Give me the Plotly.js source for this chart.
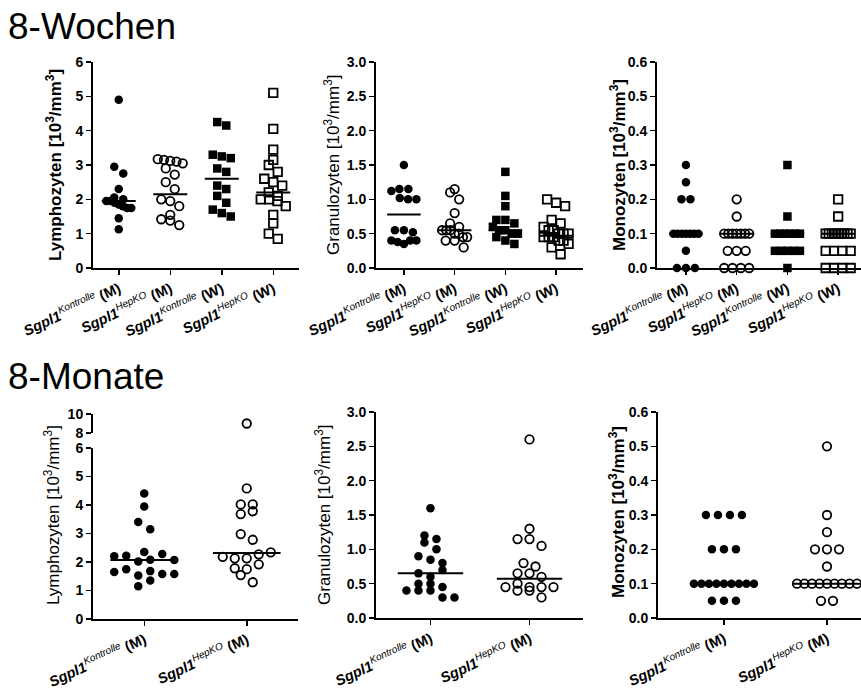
<!DOCTYPE html>
<html>
<head>
<meta charset="utf-8">
<script src="https://cdn.plot.ly/plotly-3.0.1.min.js"></script>
<style>html,body{margin:0;padding:0;background:#fff;}#chart{width:861px;height:691px;}</style>
</head>
<body>
<div id="chart"></div>
<script>
// ---------------- DATA ----------------
const catW8 = [['Kontrolle','M'],['HepKO','M'],['Kontrolle','W'],['HepKO','W']];
const catM8 = [['Kontrolle','M'],['HepKO','M']];

// 8-Wochen: Lymphozyten
const lymW8_KM = [4.9, 2.95, 2.75, 2.3, 2.05, 2.0, 1.95, 1.95, 1.9, 1.85, 1.8, 1.75, 1.75, 1.45, 1.13];
const lymW8_HM = [3.17, 3.15, 3.12, 3.1, 3.05, 2.9, 2.72, 2.5, 2.3, 2.0, 1.95, 1.8, 1.55, 1.42, 1.38, 1.25];
const lymW8_KW = [4.25, 4.15, 3.3, 3.25, 3.2, 2.9, 2.8, 2.4, 2.3, 2.1, 1.9, 1.7, 1.6, 1.5];
const lymW8_HW = [5.1, 4.05, 3.45, 3.15, 3.0, 2.8, 2.6, 2.5, 2.4, 2.2, 2.1, 2.0, 2.0, 1.95, 1.8, 1.55, 1.3, 1.0, 0.85];
const lymW8_med = [1.95, 2.15, 2.6, 2.2];

// 8-Wochen: Granulozyten
const granW8_KM = [1.5, 1.15, 1.15, 1.12, 1.02, 1.0, 1.0, 0.55, 0.55, 0.52, 0.4, 0.38, 0.35, 0.4, 0.4];
const granW8_HM = [1.15, 1.1, 1.0, 0.8, 0.65, 0.6, 0.55, 0.55, 0.55, 0.5, 0.5, 0.45, 0.45, 0.4, 0.4, 0.3];
const granW8_KW = [1.4, 1.05, 0.9, 0.7, 0.7, 0.65, 0.6, 0.55, 0.55, 0.5, 0.5, 0.45, 0.4, 0.35];
const granW8_HW = [1.0, 0.95, 0.9, 0.7, 0.65, 0.6, 0.55, 0.55, 0.5, 0.5, 0.5, 0.45, 0.45, 0.45, 0.4, 0.4, 0.35, 0.3, 0.2];
const granW8_med = [0.78, 0.55, 0.55, 0.47];

// 8-Wochen: Monozyten
const monoW8_KM = [0.3, 0.25, 0.2, 0.2, 0.1, 0.1, 0.1, 0.1, 0.1, 0.1, 0.1, 0.05, 0.0, 0.0, 0.0];
const monoW8_HM = [0.2, 0.15, 0.1, 0.1, 0.1, 0.1, 0.1, 0.1, 0.1, 0.05, 0.05, 0.05, 0.0, 0.0, 0.0, 0.0];
const monoW8_KW = [0.3, 0.15, 0.1, 0.1, 0.1, 0.1, 0.1, 0.1, 0.05, 0.05, 0.05, 0.05, 0.05, 0.0];
const monoW8_HW = [0.2, 0.15, 0.1, 0.1, 0.1, 0.1, 0.1, 0.1, 0.1, 0.1, 0.1, 0.05, 0.05, 0.05, 0.05, 0.0, 0.0, 0.0, 0.0];
const monoW8_med = [0.1, 0.1, 0.1, 0.1];

// 8-Monate: Lymphozyten
const lymM8_K = [4.4, 3.95, 3.4, 3.15, 2.2, 2.22, 2.02, 2.08, 2.28, 2.07, 2.35, 1.65, 1.75, 1.53, 1.68, 1.58, 1.58, 1.15, 1.35];
const lymM8_H = [9.0, 4.58, 4.02, 4.02, 3.68, 3.78, 2.98, 2.78, 2.18, 2.13, 2.13, 2.27, 2.34, 1.78, 1.75, 1.92, 1.54, 1.29];
const lymM8_med = [2.07, 2.32];

// 8-Monate: Granulozyten
const granM8_K = [1.6, 1.2, 1.1, 1.15, 1.0, 0.9, 0.85, 0.8, 0.65, 0.6, 0.7, 0.5, 0.5, 0.45, 0.4, 0.4, 0.4, 0.3, 0.3];
const granM8_H = [2.6, 1.3, 1.15, 1.15, 1.05, 0.8, 0.75, 0.65, 0.65, 0.6, 0.45, 0.5, 0.45, 0.45, 0.4, 0.4, 0.45, 0.3];
const granM8_med = [0.65, 0.57];

// 8-Monate: Monozyten
const monoM8_K = [0.3, 0.3, 0.3, 0.3, 0.2, 0.2, 0.2, 0.1, 0.1, 0.1, 0.1, 0.1, 0.1, 0.1, 0.1, 0.1, 0.05, 0.05, 0.05];
const monoM8_H = [0.5, 0.3, 0.25, 0.2, 0.2, 0.2, 0.15, 0.1, 0.1, 0.1, 0.1, 0.1, 0.1, 0.1, 0.1, 0.1, 0.05, 0.05];
const monoM8_med = [0.1, 0.1];

// ---------------- LAYOUT HELPERS ----------------
const W = 861, H = 691;
const FONT = 'Liberation Sans, Arial, sans-serif';
const dx = px => px / W;
const dy = px => 1 - px / H;

function tickLabel(c) {
  return '<b><i>Sgpl1</i></b><sup><i>' + c[0] + '</i></sup><b> (' + c[1] + ')</b>';
}

// panel geometry (pixels)
const G = {
  lymW8:  {x0: 93,  x1: 299, xr: [-0.5, 3.5],   yT: 62,  yB: 268, yr: [0, 6],   dt: 1,   fmt: 'd'},
  granW8: {x0: 376, x1: 583, xr: [-0.55, 3.53], yT: 62,  yB: 268, yr: [0, 3],   dt: 0.5, fmt: '.1f'},
  monoW8: {x0: 657, x1: 861, xr: [-0.57, 3.45], yT: 62,  yB: 268, yr: [0, 0.6], dt: 0.1, fmt: '.1f'},
  lymM8:  {x0: 93,  x1: 298, xr: [-0.5, 1.5],   yT: 448, yB: 619, yr: [0, 6],   dt: 1,   fmt: 'd'},
  granM8: {x0: 376, x1: 583, xr: [-0.55, 1.54], yT: 412, yB: 618, yr: [0, 3],   dt: 0.5, fmt: '.1f'},
  monoM8: {x0: 658, x1: 861, xr: [-0.64, 1.33], yT: 412, yB: 618, yr: [0, 0.6], dt: 0.1, fmt: '.1f'}
};
const lymUpper = {yT: 414, yB: 433, yr: [8, 10]};

function pxX(g) { return (g.x1 - g.x0) / (g.xr[1] - g.xr[0]); }
function pxY(g) { return (g.yB - g.yT) / (g.yr[1] - g.yr[0]); }

// row-based scatter layout (GraphPad-like)
function swarm(vals, cat, g, spacing, halfW) {
  const ppy = pxY(g), ppx = pxX(g), dBin = 8.5;
  const idx = vals.map((v, i) => i).sort((a, b) => vals[a] - vals[b] || a - b);
  const rows = []; let cur = [];
  idx.forEach(i => {
    if (cur.length && (vals[i] - vals[cur[0]]) * ppy >= dBin) { rows.push(cur); cur = []; }
    cur.push(i);
  });
  if (cur.length) rows.push(cur);
  const xs = new Array(vals.length);
  rows.forEach(r => {
    r.sort((a, b) => a - b);
    const n = r.length;
    const s = n > 1 ? Math.min(spacing, 2 * halfW / (n - 1)) : 0;
    r.forEach((i, k) => { xs[i] = cat + ((k - (n - 1) / 2) * s) / ppx; });
  });
  return xs;
}

const SYM = ['circle', 'circle-open', 'square', 'square-open'];
const traces = [];

function addGroup(vals, cat, g, xa, ya, sym, spacing, halfW) {
  const xs = swarm(vals, cat, g, spacing, halfW);
  const open = sym.indexOf('open') >= 0;
  traces.push({
    type: 'scatter', mode: 'markers', x: xs, y: vals, xaxis: xa, yaxis: ya,
    cliponaxis: false, showlegend: false, hoverinfo: 'skip',
    marker: {symbol: sym, size: 8.5, color: 'black',
             line: {color: 'black', width: open ? 1.8 : 0}}
  });
}
function addMedians(meds, xa, ya) {
  meds.forEach((m, i) => {
    traces.push({type: 'scatter', mode: 'lines', x: [i - 0.33, i + 0.33], y: [m, m],
      xaxis: xa, yaxis: ya, showlegend: false, hoverinfo: 'skip', cliponaxis: false,
      line: {color: 'black', width: 2}});
  });
}

// top row
const topSets = [
  {g: G.lymW8,  xa: 'x',  ya: 'y',  d: [lymW8_KM, lymW8_HM, lymW8_KW, lymW8_HW], m: lymW8_med},
  {g: G.granW8, xa: 'x2', ya: 'y2', d: [granW8_KM, granW8_HM, granW8_KW, granW8_HW], m: granW8_med},
  {g: G.monoW8, xa: 'x3', ya: 'y3', d: [monoW8_KM, monoW8_HM, monoW8_KW, monoW8_HW], m: monoW8_med}
];
topSets.forEach(s => {
  s.d.forEach((vals, i) => addGroup(vals, i, s.g, s.xa, s.ya, SYM[i], 9, 12.5));
  addMedians(s.m, s.xa, s.ya);
});

// bottom row
const botSets = [
  {g: G.granM8, xa: 'x5', ya: 'y5', d: [granM8_K, granM8_H], m: granM8_med},
  {g: G.monoM8, xa: 'x6', ya: 'y6', d: [monoM8_K, monoM8_H], m: monoM8_med}
];
botSets.forEach(s => {
  s.d.forEach((vals, i) => addGroup(vals, i, s.g, s.xa, s.ya, SYM[i], 12, 30));
  addMedians(s.m, s.xa, s.ya);
});
// broken-axis lymphocytes
[lymM8_K, lymM8_H].forEach((vals, i) => {
  const low = vals.filter(v => v <= 6), high = vals.filter(v => v > 6);
  addGroup(low, i, G.lymM8, 'x4', 'y4', SYM[i], 12, 30);
  if (high.length) addGroup(high, i, Object.assign({}, G.lymM8, lymUpper), 'x4', 'y7', SYM[i], 12, 30);
});
addMedians(lymM8_med, 'x4', 'y4');

// axes
const tickFont = {family: FONT, size: 14, color: 'black', weight: 'bold'};
function xAxis(g, anchor, cats) {
  return {domain: [dx(g.x0), dx(g.x1)], range: g.xr, anchor: anchor, showgrid: false, zeroline: false,
    showline: true, linewidth: 2, linecolor: 'black', ticks: 'outside', ticklen: 5, tickwidth: 1.5, tickcolor: 'black',
    tickmode: 'array', tickvals: cats.map((c, i) => i), ticktext: cats.map(tickLabel), tickangle: -25,
    tickfont: {family: FONT, size: 14.5, color: 'black'}, fixedrange: true};
}
function yAxis(g, anchor) {
  const tv = [];
  for (let v = g.yr[0]; v <= g.yr[1] + 1e-9; v += g.dt) tv.push(+v.toFixed(3));
  return {domain: [dy(g.yB), dy(g.yT)], range: g.yr, anchor: anchor, showgrid: false, zeroline: false,
    showline: true, linewidth: 2, linecolor: 'black', ticks: 'outside', ticklen: 5, tickwidth: 1.5, tickcolor: 'black',
    tickmode: 'array', tickvals: tv, tickformat: g.fmt, tickfont: tickFont, fixedrange: true};
}

const layout = {
  width: W, height: H, margin: {l: 0, r: 0, t: 0, b: 0},
  paper_bgcolor: 'white', plot_bgcolor: 'rgba(0,0,0,0)', showlegend: false,
  font: {family: FONT, color: 'black'},
  xaxis: xAxis(G.lymW8, 'y', catW8),   yaxis: yAxis(G.lymW8, 'x'),
  xaxis2: xAxis(G.granW8, 'y2', catW8), yaxis2: yAxis(G.granW8, 'x2'),
  xaxis3: xAxis(G.monoW8, 'y3', catW8), yaxis3: yAxis(G.monoW8, 'x3'),
  xaxis4: xAxis(G.lymM8, 'y4', catM8),  yaxis4: yAxis(G.lymM8, 'x4'),
  xaxis5: xAxis(G.granM8, 'y5', catM8), yaxis5: yAxis(G.granM8, 'x5'),
  xaxis6: xAxis(G.monoM8, 'y6', catM8), yaxis6: yAxis(G.monoM8, 'x6'),
  yaxis7: yAxis({yT: lymUpper.yT, yB: lymUpper.yB, yr: lymUpper.yr, dt: 2, fmt: 'd'}, 'x4'),
  annotations: [
    {text: '8-Wochen', x: dx(6), y: dy(26), xref: 'paper', yref: 'paper', xanchor: 'left', yanchor: 'middle', showarrow: false, font: {family: FONT, size: 37, color: 'black'}},
    {text: '8-Monate', x: dx(6), y: dy(377), xref: 'paper', yref: 'paper', xanchor: 'left', yanchor: 'middle', showarrow: false, font: {family: FONT, size: 37, color: 'black'}}
  ]
};
const yTitles = [
  ['Lymphozyten', 54, 165, 'bold'], ['Granulozyten', 332, 165, 'normal'], ['Monozyten', 618, 165, 'bold'],
  ['Lymphozyten', 52, 515, 'normal'], ['Granulozyten', 323, 515, 'normal'], ['Monozyten', 617, 512, 'bold']
];
yTitles.forEach(t => {
  layout.annotations.push({text: t[0] + ' [10<sup>3</sup>/mm<sup>3</sup>]', textangle: -90,
    x: dx(t[1]), y: dy(t[2]), xref: 'paper', yref: 'paper', xanchor: 'center', yanchor: 'middle', showarrow: false,
    font: {family: FONT, size: 17, color: 'black', weight: t[3]}});
});

Plotly.newPlot('chart', traces, layout, {staticPlot: true, displayModeBar: false});
</script>
</body>
</html>
